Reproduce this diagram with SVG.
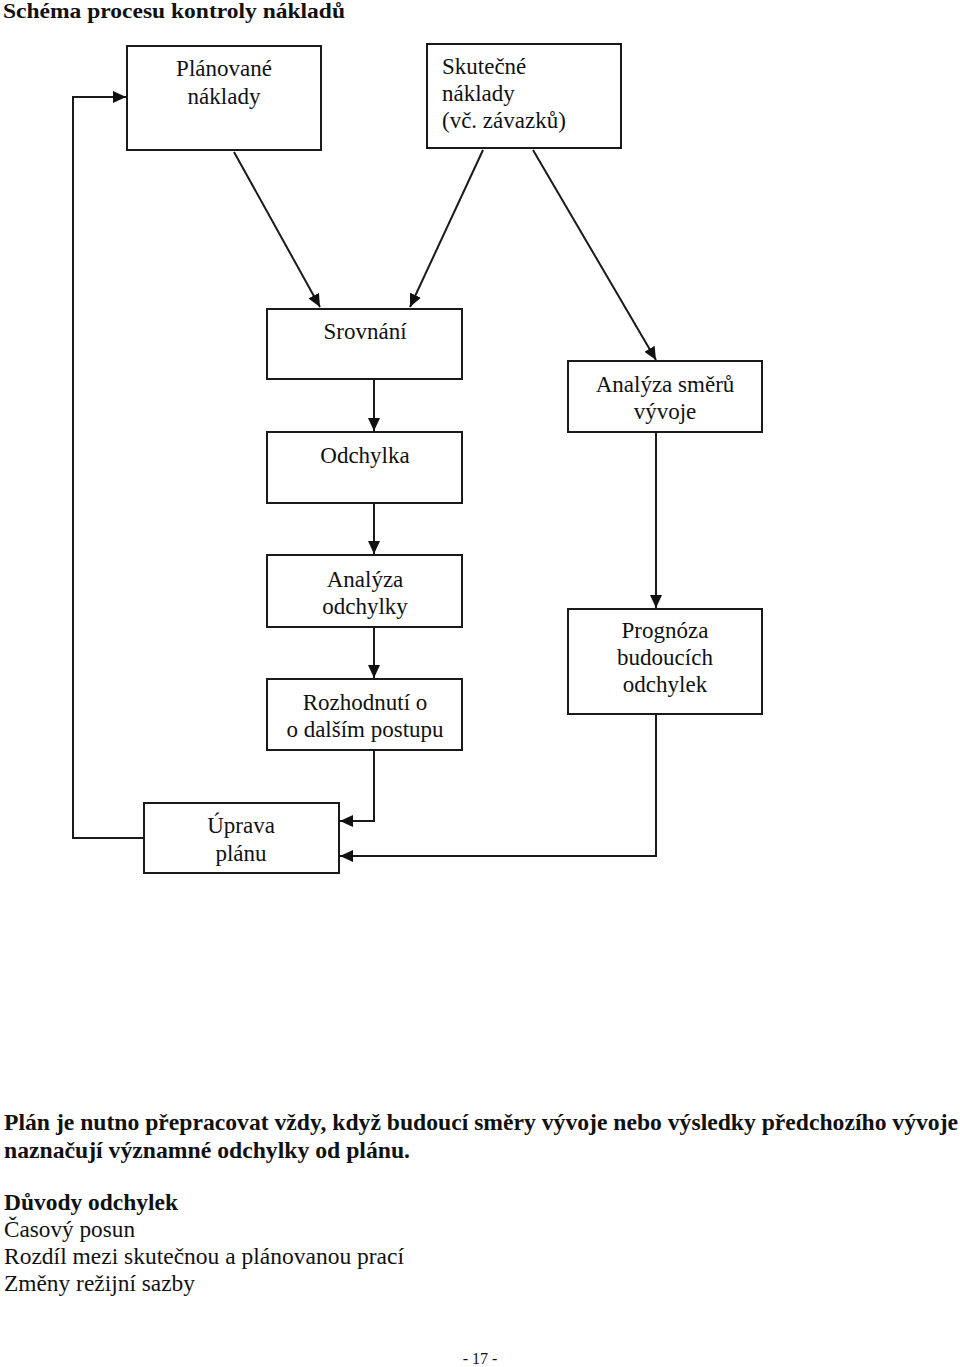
<svg xmlns="http://www.w3.org/2000/svg" width="960" height="1367" viewBox="0 0 960 1367">
<style>
.box{fill:#fff;stroke:#1a1a1a;stroke-width:2}
.t{font-family:"Liberation Serif",serif;font-size:23px;fill:#111;text-anchor:middle}
.tl{font-family:"Liberation Serif",serif;font-size:23px;fill:#111}
.b{font-family:"Liberation Serif",serif;font-size:23px;font-weight:bold;fill:#111}
.n{font-family:"Liberation Serif",serif;font-size:23px;fill:#111}
.c{fill:none;stroke:#1a1a1a;stroke-width:2}
</style>
<defs>
<marker id="ah" viewBox="0 0 13 12" refX="13" refY="6" markerWidth="13" markerHeight="12" markerUnits="userSpaceOnUse" orient="auto">
<path d="M0,0 L13,6 L0,12 z" fill="#111"/>
</marker>
</defs>
<rect width="960" height="1367" fill="#fff"/>
<text class="b" x="3" y="18" textLength="342" lengthAdjust="spacingAndGlyphs" style="font-size:22px">Schéma procesu kontroly nákladů</text>

<g id="connectors">
<path class="c" d="M234,152 L320,307" marker-end="url(#ah)"/>
<path class="c" d="M483,150 L410,307" marker-end="url(#ah)"/>
<path class="c" d="M533,150 L656,360" marker-end="url(#ah)"/>
<path class="c" d="M374,379 L374,431" marker-end="url(#ah)"/>
<path class="c" d="M374,503 L374,554" marker-end="url(#ah)"/>
<path class="c" d="M374,627 L374,678" marker-end="url(#ah)"/>
<path class="c" d="M656,432 L656,608" marker-end="url(#ah)"/>
<path class="c" d="M374,750 L374,821 L340,821" marker-end="url(#ah)"/>
<path class="c" d="M656,714 L656,856 L340,856" marker-end="url(#ah)"/>
<path class="c" d="M144,838 L73,838 L73,97 L126,97" marker-end="url(#ah)"/>
</g>

<g id="planovane">
<rect class="box" x="127" y="46" width="194" height="104"/>
<text class="t" x="224" y="76">Plánované</text>
<text class="t" x="224" y="104">náklady</text>
</g>
<g id="skutecne">
<rect class="box" x="427" y="44" width="194" height="104"/>
<text class="tl" x="442" y="74">Skutečné</text>
<text class="tl" x="442" y="101">náklady</text>
<text class="tl" x="442" y="128">(vč. závazků)</text>
</g>
<g id="srovnani">
<rect class="box" x="267" y="309" width="195" height="70"/>
<text class="t" x="365" y="339">Srovnání</text>
</g>
<g id="odchylka">
<rect class="box" x="267" y="432" width="195" height="71"/>
<text class="t" x="365" y="463">Odchylka</text>
</g>
<g id="analyza-odchylky">
<rect class="box" x="267" y="555" width="195" height="72"/>
<text class="t" x="365" y="587">Analýza</text>
<text class="t" x="365" y="614">odchylky</text>
</g>
<g id="rozhodnuti">
<rect class="box" x="267" y="679" width="195" height="71"/>
<text class="t" x="365" y="710">Rozhodnutí o</text>
<text class="t" x="365" y="737">o dalším postupu</text>
</g>
<g id="analyza-smeru">
<rect class="box" x="568" y="361" width="194" height="71"/>
<text class="t" x="665" y="392">Analýza směrů</text>
<text class="t" x="665" y="419">vývoje</text>
</g>
<g id="prognoza">
<rect class="box" x="568" y="609" width="194" height="105"/>
<text class="t" x="665" y="638">Prognóza</text>
<text class="t" x="665" y="665">budoucích</text>
<text class="t" x="665" y="692">odchylek</text>
</g>
<g id="uprava">
<rect class="box" x="144" y="803" width="195" height="70"/>
<text class="t" x="241" y="833">Úprava</text>
<text class="t" x="241" y="861">plánu</text>
</g>

<text class="b" x="4" y="1130" textLength="954" lengthAdjust="spacingAndGlyphs">Plán je nutno přepracovat vždy, když budoucí směry vývoje nebo výsledky předchozího vývoje</text>
<text class="b" x="4" y="1158" textLength="406" lengthAdjust="spacingAndGlyphs">naznačují významné odchylky od plánu.</text>
<text class="b" x="4" y="1210" textLength="174" lengthAdjust="spacingAndGlyphs">Důvody odchylek</text>
<text class="n" x="4" y="1237" textLength="131" lengthAdjust="spacingAndGlyphs">Časový posun</text>
<text class="n" x="4" y="1264" textLength="400" lengthAdjust="spacingAndGlyphs">Rozdíl mezi skutečnou a plánovanou prací</text>
<text class="n" x="4" y="1291" textLength="191" lengthAdjust="spacingAndGlyphs">Změny režijní sazby</text>
<text class="n" x="480" y="1364" text-anchor="middle" style="font-size:16px">- 17 -</text>
</svg>
